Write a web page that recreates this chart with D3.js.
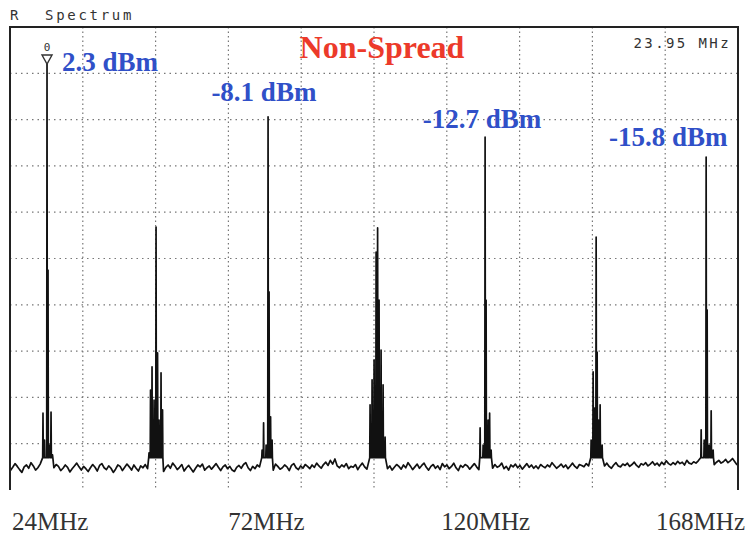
<!DOCTYPE html>
<html>
<head>
<meta charset="utf-8">
<script src="https://cdn.jsdelivr.net/npm/d3@7"></script>
<style>
  body { margin: 0; background: #fff; }
  svg { display: block; }
</style>
</head>
<body>
<div id="spectrum"></div>
<script>
// analyzer screen settings
const startMHz = 15.9;
const stopMHz = 175.2;
const refLevelDbm = 10;
const bottomDbm = -90;
const markerReadout = '23.95 MHz';

const axisLabelFreqs = [24, 72, 120, 168];
const axisLabels = ['24MHz', '72MHz', '120MHz', '168MHz'];
const peakLabelFreqs = [24, 72, 120, 168];
const peakLabels = ['2.3 dBm', '-8.1 dBm', '-12.7 dBm', '-15.8 dBm'];

// noise floor, one sample every 0.5 MHz starting at 16 MHz
const floorStartMHz = 16;
const floorStepMHz = 0.5;
const floorDbm = [
  -85.8, -85.1, -84.3, -84.9, -85.6, -86.2, -85.0, -84.6, -85.3, -84.1,
  -84.8, -85.7, -85.2, -84.4, -85.9, -85.1, -84.7, -85.5, -86.0, -85.2,
  -84.5, -84.9, -85.8, -85.3, -84.6, -85.1, -86.1, -85.4, -84.8, -84.2,
  -85.0, -85.7, -84.9, -85.4, -86.0, -85.2, -84.5, -85.1, -85.9, -84.7,
  -84.3, -85.2, -85.6, -84.8, -85.3, -86.2, -85.5, -84.6, -84.9, -85.8,
  -85.1, -84.4, -85.0, -85.7, -84.6, -85.3, -85.9, -84.8, -85.2, -84.5,
  -85.4, -85.0, -84.7, -85.2, -85.8, -84.9, -85.5, -86.0, -85.1, -84.6,
  -85.3, -84.2, -84.8, -85.6, -85.1, -84.5, -85.9, -85.2, -84.7, -85.4,
  -86.1, -85.3, -84.6, -85.0, -84.4, -85.7, -85.2, -84.8, -85.5, -84.9,
  -84.3, -85.1, -85.8, -85.0, -84.6, -85.4, -84.9, -85.7, -86.0, -85.1,
  -84.7, -85.3, -84.5, -84.1, -85.2, -85.8, -84.9, -85.4, -84.6, -85.0,
  -85.6, -84.8, -85.3, -84.5, -85.1, -85.7, -84.4, -84.9, -85.5, -85.2,
  -84.6, -85.0, -85.8, -84.7, -84.3, -85.2, -85.6, -84.8, -85.3, -84.5,
  -84.9, -85.4, -84.6, -85.1, -84.2, -84.8, -85.3, -84.5, -84.0, -84.7,
  -83.6, -84.4, -83.3, -84.8, -85.2, -84.6, -85.0, -84.3, -85.4, -84.9,
  -85.1, -84.5, -85.6, -84.8, -84.2, -85.0, -85.5, -84.7, -85.2, -84.4,
  -85.0, -84.6, -85.3, -84.9, -84.3, -85.4, -84.8, -85.7, -85.1, -84.5,
  -84.9, -85.5, -84.6, -85.2, -84.1, -84.8, -85.6, -85.0, -84.4, -85.3,
  -84.7, -84.2, -85.1, -85.7, -84.9, -84.5, -85.3, -84.8, -85.6, -84.3,
  -85.0, -84.6, -85.4, -84.9, -84.2, -85.2, -85.8, -84.7, -85.1, -84.5,
  -84.8, -85.5, -84.9, -84.3, -85.0, -85.6, -84.6, -85.2, -84.4, -85.0,
  -84.7, -85.3, -84.5, -85.1, -84.8, -84.2, -85.4, -84.9, -85.7, -84.6,
  -85.0, -84.4, -85.2, -84.7, -85.5, -84.9, -84.3, -85.1, -84.6, -85.3,
  -84.8, -85.4, -84.5, -84.9, -85.2, -84.6, -85.0, -84.1, -84.7, -85.3,
  -84.9, -84.4, -85.1, -84.6, -85.4, -84.8, -84.2, -84.9, -85.3, -84.5,
  -84.7, -85.0, -84.3, -84.8, -85.2, -84.6, -84.9, -84.4, -85.1, -84.5,
  -84.8, -84.2, -84.9, -85.3, -84.6, -84.1, -84.8, -85.0, -84.4, -84.7,
  -84.2, -84.9, -84.5, -84.0, -84.7, -85.1, -84.3, -84.6, -84.1, -84.8,
  -84.4, -83.9, -84.6, -84.2, -84.8, -84.0, -84.5, -83.7, -84.3, -84.6,
  -84.1, -84.5, -83.8, -84.3, -84.0, -84.6, -83.6, -84.2, -84.4, -83.9,
  -84.2, -83.7, -84.4, -84.0, -83.5, -84.1, -84.3, -83.8, -84.5, -84.0,
  -83.6, -84.2, -83.9, -83.4, -84.1, -83.7, -83.2, -83.9, -84.6
];

// harmonic lines with their side lines, [MHz, dBm]
const spurs24 = [[23.12, -73.4], [23.45, -79.2], [24.00, 2.0], [24.22, -42.5], [24.55, -80.3], [24.88, -73.2], [25.20, -82.4]];
const spurs48 = [[46.32, -82.0], [46.65, -68.4], [46.98, -63.4], [47.42, -70.6], [47.86, -33.2], [48.19, -60.4], [48.52, -74.9], [48.95, -64.7], [49.28, -72.7]];
const spurs72 = [[71.06, -81.4], [71.39, -75.5], [71.94, -80.3], [72.37, -9.4], [72.59, -47.2], [72.92, -74.2], [73.25, -79.2]];
const spurs96 = [[94.69, -71.6], [95.13, -66.2], [95.57, -61.9], [96.01, -38.6], [96.34, -33.4], [96.66, -49.0], [97.10, -59.8], [97.54, -67.3], [97.98, -78.6]];
const spurs120 = [[118.77, -76.6], [119.43, -80.3], [119.86, -13.8], [120.08, -49.0], [120.52, -74.9], [120.85, -73.4], [121.18, -81.4]];
const spurs144 = [[143.06, -79.2], [143.50, -64.5], [143.83, -72.3], [144.16, -35.4], [144.38, -60.2], [144.71, -74.9], [145.03, -71.6], [145.47, -80.3]];
const spurs168 = [[167.14, -77.0], [167.80, -79.2], [168.23, -18.1], [168.45, -51.1], [168.89, -80.3], [169.33, -72.9], [169.76, -81.4]];
const footDbm = -83;

const clusters = [spurs24, spurs48, spurs72, spurs96, spurs120, spurs144, spurs168];

const width = 748;
const height = 535;
const margin = {top: 27, right: 10, bottom: 45, left: 10};

const svg = d3.select('#spectrum')
  .append('svg')
    .attr('viewBox', [0, 0, width, height])
    .attr('width', width)
    .attr('height', height);

const x = d3.scaleLinear()
  .domain([startMHz, stopMHz])
  .range([margin.left, width - margin.right]);

const y = d3.scaleLinear()
  .domain([refLevelDbm, bottomDbm])
  .range([margin.top, height - margin.bottom]);

// screen graticule, 10 x 10 divisions
const divMHz = (stopMHz - startMHz) / 10;
svg.append('g')
    .attr('class', 'grid-v')
  .selectAll('line')
  .data(d3.range(1, 10))
  .join('line')
    .attr('x1', d => x(startMHz + d * divMHz))
    .attr('x2', d => x(startMHz + d * divMHz))
    .attr('y1', y(refLevelDbm))
    .attr('y2', y(bottomDbm))
    .attr('stroke', '#777')
    .attr('stroke-width', 1.2)
    .attr('stroke-dasharray', '1.5 3');

svg.append('g')
    .attr('class', 'grid-h')
  .selectAll('line')
  .data(d3.range(refLevelDbm - 10, bottomDbm, -10))
  .join('line')
    .attr('x1', x(startMHz))
    .attr('x2', x(stopMHz))
    .attr('y1', d => y(d))
    .attr('y2', d => y(d))
    .attr('stroke', '#777')
    .attr('stroke-width', 1.2)
    .attr('stroke-dasharray', '1.5 4');

// header texts
const mono = 'DejaVu Sans Mono, monospace';
svg.append('text')
    .attr('x', 10)
    .attr('y', 20)
    .attr('font-family', mono)
    .attr('font-size', 14)
    .attr('fill', '#333')
    .text('R');

svg.append('text')
    .attr('x', 45)
    .attr('y', 20)
    .attr('font-family', mono)
    .attr('font-size', 14)
    .attr('letter-spacing', 2.7)
    .attr('fill', '#333')
    .text('Spectrum');

svg.append('text')
    .attr('x', width - 17)
    .attr('y', 48)
    .attr('text-anchor', 'end')
    .attr('font-family', mono)
    .attr('font-size', 14)
    .attr('letter-spacing', 2.4)
    .attr('fill', '#333')
    .text(markerReadout);

svg.append('text')
    .attr('x', 382)
    .attr('y', 58)
    .attr('text-anchor', 'middle')
    .attr('font-family', 'Liberation Serif, serif')
    .attr('font-weight', 'bold')
    .attr('font-size', 32)
    .attr('fill', '#ec3a2a')
    .text('Non-Spread');

// peak labels
const labelShift = [[15, 7], [-55, -16], [-63, -9], [-96, -11]];
svg.append('g')
  .selectAll('text')
  .data(peakLabels)
  .join('text')
    .attr('x', (d, i) => x(peakLabelFreqs[i]) + labelShift[i][0])
    .attr('y', (d, i) => y(clusters[[0, 2, 4, 6][i]].reduce((m, s) => Math.max(m, s[1]), -999)) + labelShift[i][1])
    .attr('font-family', 'Liberation Serif, serif')
    .attr('font-weight', 'bold')
    .attr('font-size', 27)
    .attr('fill', '#3050c8')
    .text(d => d);

// trace
const trace = [];
floorDbm.forEach((v, i) => {
  const f = floorStartMHz + i * floorStepMHz;
  const inCluster = clusters.some(c => f > c[0][0] - 0.2 && f < c[c.length - 1][0] + 0.2);
  if (!inCluster) trace.push([f, v]);
});
clusters.forEach(c => c.forEach(([f, p]) => {
  trace.push([f - 0.07, footDbm], [f, p], [f + 0.07, footDbm]);
}));
trace.sort((a, b) => a[0] - b[0]);

svg.append('path')
    .datum(trace)
    .attr('fill', 'none')
    .attr('stroke', '#111')
    .attr('stroke-width', 1.7)
    .attr('stroke-linejoin', 'round')
    .attr('d', d3.line().x(d => x(d[0])).y(d => y(d[1])));

// screen frame (left, top, right)
svg.append('path')
    .attr('fill', 'none')
    .attr('stroke', '#222')
    .attr('stroke-width', 2)
    .attr('d', `M${x(startMHz)},${y(bottomDbm)}V${y(refLevelDbm)}H${x(stopMHz)}V${y(bottomDbm)}`);

// marker 0 on the fundamental
const mainPeak = spurs24[2];
const mx = x(mainPeak[0]);
const my = y(mainPeak[1]);
svg.append('path')
    .attr('d', `M${mx - 5},${my - 9}L${mx + 5},${my - 9}L${mx},${my}Z`)
    .attr('fill', '#fff')
    .attr('stroke', '#333')
    .attr('stroke-width', 1.4);
svg.append('text')
    .attr('x', mx)
    .attr('y', my - 13)
    .attr('text-anchor', 'middle')
    .attr('font-family', mono)
    .attr('font-size', 11)
    .attr('fill', '#333')
    .text('0');

// frequency labels under the screen
const freqLabels = svg.append('g')
  .selectAll('text')
  .data(axisLabels)
  .join('text')
    .attr('x', (d, i) => x(axisLabelFreqs[i]))
    .attr('y', 530)
    .attr('text-anchor', 'middle')
    .attr('font-family', 'Liberation Serif, serif')
    .attr('font-size', 25)
    .attr('fill', '#333')
    .text(d => d);

// keep the outer labels inside the picture
freqLabels.each(function() {
  const box = this.getBBox();
  let dx = 0;
  if (box.x < 12) dx = 12 - box.x;
  if (box.x + box.width > width - 3) dx = width - 3 - box.x - box.width;
  d3.select(this).attr('x', +d3.select(this).attr('x') + dx);
});
</script>
</body>
</html>
